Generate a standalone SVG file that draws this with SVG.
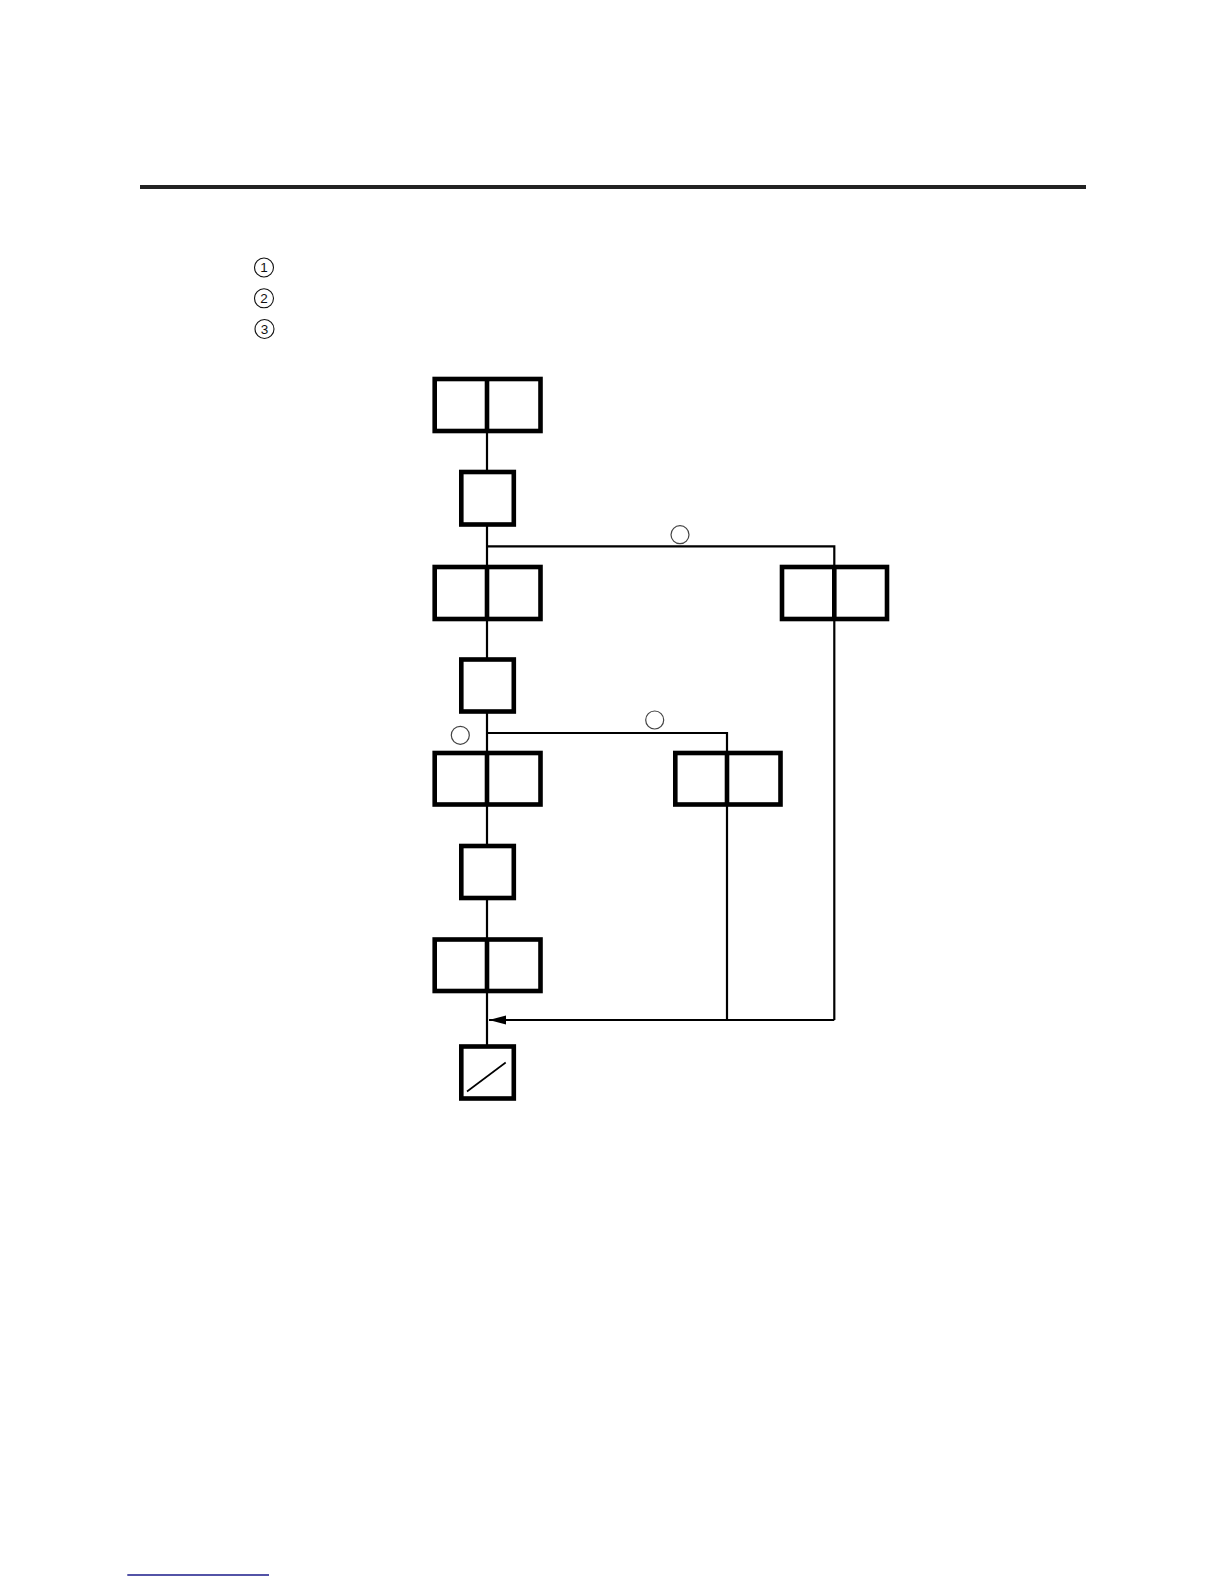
<svg xmlns="http://www.w3.org/2000/svg" width="1224" height="1584" viewBox="0 0 1224 1584">
<style>
.box{fill:#fff;stroke:#000;stroke-width:4.6}
.div{stroke:#000;stroke-width:4.6}
.conn{fill:none;stroke:#000;stroke-width:2.2}
.mark{fill:#fff;stroke:#444;stroke-width:1.2}
.num{fill:#fff;stroke:#111;stroke-width:1.1}
.ntext{font-family:"Liberation Sans",Arial,sans-serif;font-size:13.5px;fill:#111;text-anchor:middle}
</style>
<defs>
<marker id="arrow" markerWidth="18" markerHeight="10" refX="17" refY="4.5" orient="auto" markerUnits="userSpaceOnUse">
<path d="M0,0 L17,4.5 L0,9 Z" fill="#000"/>
</marker>
</defs>
<rect width="1224" height="1584" fill="#fff"/>
<line x1="140" y1="187" x2="1086" y2="187" stroke="#222" stroke-width="4"/>
<g id="legend">
<circle class="num" cx="264" cy="267.5" r="9.5"/><text class="ntext" x="264" y="272.3">1</text>
<circle class="num" cx="264" cy="298.3" r="9.5"/><text class="ntext" x="264" y="303.1">2</text>
<circle class="num" cx="264.5" cy="329" r="9.5"/><text class="ntext" x="264.5" y="333.8">3</text>
</g>
<g id="connectors">
<line class="conn" x1="487" y1="431" x2="487" y2="1046"/>
<polyline class="conn" points="487,546.3 834.3,546.3 834.3,1020"/>
<polyline class="conn" points="487,733 727,733 727,1020"/>
<line class="conn" x1="834.3" y1="1020" x2="489" y2="1020" marker-end="url(#arrow)"/>
<circle class="mark" cx="680" cy="534.7" r="9"/>
<circle class="mark" cx="460.3" cy="735.3" r="9"/>
<circle class="mark" cx="654.7" cy="720" r="9"/>
</g>
<g id="step1"><rect class="box" x="434.7" y="379" width="105.8" height="52"/><line class="div" x1="487" y1="379" x2="487" y2="431"/></g>
<g id="trans1"><rect class="box" x="461.3" y="472" width="52.5" height="52.5"/></g>
<g id="step2"><rect class="box" x="434.7" y="567" width="105.8" height="52"/><line class="div" x1="487" y1="567" x2="487" y2="619"/></g>
<g id="step2b"><rect class="box" x="782" y="567" width="105" height="52"/><line class="div" x1="834.3" y1="567" x2="834.3" y2="619"/></g>
<g id="trans2"><rect class="box" x="461.3" y="659.5" width="52.5" height="52"/></g>
<g id="step3"><rect class="box" x="434.7" y="753" width="105.8" height="51.5"/><line class="div" x1="487" y1="753" x2="487" y2="804.5"/></g>
<g id="step3b"><rect class="box" x="675.3" y="753" width="105.2" height="51.5"/><line class="div" x1="727" y1="753" x2="727" y2="804.5"/></g>
<g id="trans3"><rect class="box" x="461.3" y="846" width="52.5" height="52"/></g>
<g id="step4"><rect class="box" x="434.7" y="939.5" width="105.8" height="51.5"/><line class="div" x1="487" y1="939.5" x2="487" y2="991"/></g>
<g id="end"><rect class="box" x="461.3" y="1046.5" width="52.5" height="52"/><line x1="467" y1="1091.5" x2="505.7" y2="1062.5" stroke="#000" stroke-width="1.6"/></g>
<line x1="127.3" y1="1575" x2="269" y2="1575" stroke="#1a1a8a" stroke-width="1.5"/>
</svg>
